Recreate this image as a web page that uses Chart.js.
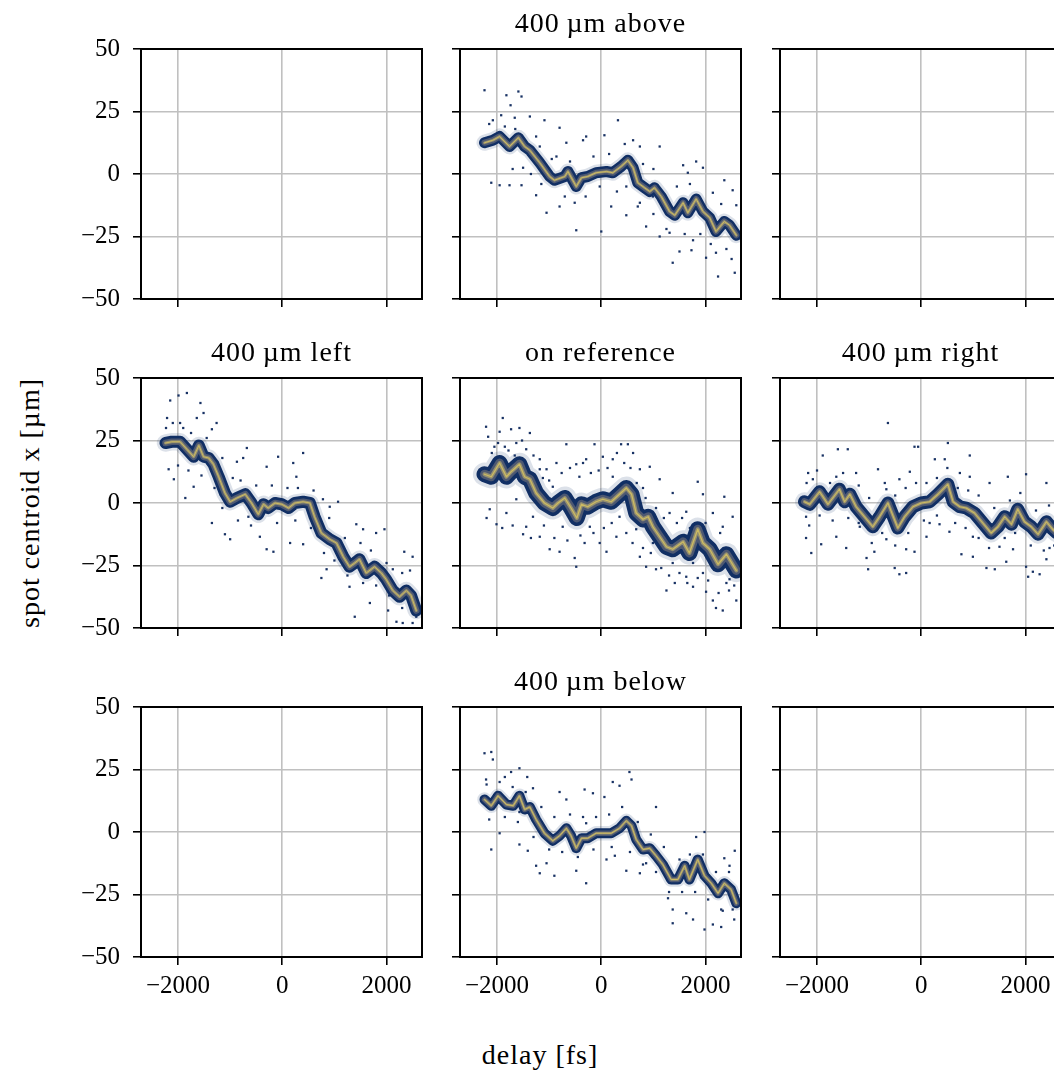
<!DOCTYPE html>
<html>
<head>
<meta charset="utf-8">
<script src="https://cdn.jsdelivr.net/npm/chart.js@4.4.1/dist/chart.umd.min.js"></script>
<style>
  html, body { margin: 0; padding: 0; background: #fff; overflow: hidden; }
  body { width: 1054px; height: 1073px; position: relative; font-family: 'Liberation Serif', serif; color: #000; }
  canvas { position: absolute; }
  .lbl { position: absolute; white-space: nowrap; font-size: 28px; letter-spacing: 1px; line-height: 1; transform: translate(-50%, -50%); }
  .rot { transform: translate(-50%, -50%) rotate(-90deg); }
</style>
</head>
<body>
<script>
// axis ticks and ranges
const delayTicks = [-2000, 0, 2000];
const centroidTicks = [-50, -25, 0, 25, 50];
const delayRange = [-2710, 2680];
const centroidRange = [-50, 50];

// densest ridge of each scan: [delay fs, centroid µm]
const ridgeAbove = [[-2240,12.5],[-2080,13.5],[-1950,15],[-1760,11],[-1590,14.5],[-1470,11],[-1370,9.5],[-1180,4.5],[-990,-1],[-900,-2.5],[-700,-1],[-640,1],[-480,-5],[-380,-1.5],[-260,-1],[-100,0.5],[100,1],[220,0.5],[380,3],[510,5.5],[610,2.5],[700,-3.5],[830,-5.5],[930,-7],[1020,-5.5],[1150,-9],[1310,-15],[1410,-16.5],[1570,-11.5],[1660,-15.5],[1820,-10],[1950,-15],[2080,-17.5],[2200,-23],[2360,-19],[2460,-20.5],[2590,-24.5]];
const ridgeLeft = [[-2240,24],[-2120,24.5],[-1960,24.5],[-1830,21.5],[-1700,18.5],[-1600,23],[-1510,18.5],[-1410,18],[-1320,15.5],[-1220,10.5],[-1100,4],[-1000,0.5],[-870,2],[-710,3.5],[-590,0],[-460,-4.5],[-360,-0.5],[-270,-2],[-140,0],[-10,-0.5],[120,-2],[240,0],[400,0.5],[530,0],[620,-5.5],[750,-12],[910,-14.5],[1040,-16],[1170,-21.5],[1290,-25.5],[1390,-24],[1480,-22.5],[1610,-28],[1770,-25.5],[1900,-28],[1990,-30.5],[2120,-35],[2250,-37.5],[2380,-35],[2470,-37],[2570,-43]];
const ridgeRef = [[-2240,11.5],[-2110,10.5],[-1950,16],[-1820,10.5],[-1730,12.5],[-1570,15.5],[-1470,10.5],[-1370,9.5],[-1250,4],[-1090,0],[-930,-2],[-830,0],[-700,2],[-580,-2],[-470,-6],[-380,-0.5],[-260,-1.5],[-100,0.5],[30,1.5],[190,0.5],[350,3.5],[480,6],[580,3.5],[670,-4],[800,-6.5],[900,-5.5],[990,-9.5],[1120,-13.5],[1250,-17.5],[1370,-18.5],[1570,-15.5],[1690,-20],[1850,-10.5],[1950,-16],[2080,-18.5],[2240,-24.5],[2400,-20.5],[2590,-27]];
const ridgeRight = [[-2240,0.5],[-2140,-0.5],[-1950,4.5],[-1790,-0.5],[-1570,5.5],[-1470,0.5],[-1370,3.5],[-1250,-1.5],[-1090,-5.5],[-930,-9.5],[-800,-5.5],[-640,0],[-450,-10],[-320,-5.5],[-160,-1.5],[0,0],[160,0.5],[320,3.5],[510,7.5],[610,0.5],[740,-1.5],[860,-2],[1020,-4],[1180,-8],[1340,-12],[1470,-9.5],[1600,-5.5],[1730,-8.5],[1850,-2.5],[1980,-7.5],[2110,-9.5],[2240,-12.5],[2400,-7.5],[2520,-10.5],[2600,-12]];
const ridgeBelow = [[-2240,13],[-2110,10.5],[-1980,14.5],[-1820,11],[-1690,10.5],[-1570,14.5],[-1470,9],[-1370,10],[-1250,5],[-1090,-0.5],[-930,-3.5],[-800,-1.5],[-670,1.5],[-580,-1.5],[-480,-6.5],[-380,-2.5],[-260,-2.5],[-100,-0.5],[30,-0.5],[190,-0.5],[350,1.5],[480,4.5],[580,2.5],[670,-3],[800,-7],[930,-6.5],[1050,-9.5],[1180,-13],[1340,-19],[1470,-19],[1600,-13.5],[1690,-19],[1850,-11],[1980,-17.5],[2110,-20.5],[2240,-24.5],[2360,-20.5],[2490,-23],[2590,-28.5]];

// sparse shots away from the ridge
const strayAbove = [[-2240,33.5],[-1820,31.5],[-1740,27.5],[-1590,33],[-1530,31],[-1920,23.5],[-2080,21.5],[-1660,22.5],[-1370,23],[-1090,21.5],[-800,18.5],[-290,15],[320,21.5],[60,15.5],[740,11],[1120,11],[1570,3.5],[1820,5],[1950,2.5],[1660,0.5],[2360,-2.5],[2520,-6.5],[2590,-12.5],[2140,-7.5],[-2110,-3.5],[-1950,-4.5],[-1760,-4.5],[-1530,-4.5],[-1250,-8.5],[-1050,-15.5],[-800,-13],[-480,-22.5],[-510,-11.5],[0,-23],[190,-13],[480,-16.5],[860,-21],[1120,-25],[1370,-35.5],[1500,-31],[1730,-30.5],[2010,-33.5],[2240,-41],[2560,-39.5],[2200,-31.5],[1760,-26.5],[1310,-23.5],[740,-11.5],[990,-9],[-860,7],[-1180,11],[-540,0.5],[-1500,2.5],[480,-5],[-30,-5],[-350,13.5],[-670,12.5],[610,13.5],
  [-2150,20],[-1850,19],[-1650,18],[-1250,15],[-950,6],[-600,5],[-150,7],[150,8],[450,12],[800,4],[1000,2],[1450,-5],[1700,-4],[2300,-12],[-1700,2],[-1350,0],[-1150,-4],[-700,-9],[-300,-9],[300,-7],[700,-13],[1000,-16],[1250,-22],[1600,-24],[1900,-24],[2100,-28],[2400,-30],[2500,-34]];
const strayLeft = [[-1990,43],[-1830,44],[-2150,41],[-2210,34],[-1960,32],[-1570,40],[-1510,36],[-1350,29.5],[-1260,32],[-1640,34],[-2180,13.5],[-2080,9.5],[-1860,2],[-1700,6.5],[-1350,-8],[-1000,-14.5],[-1100,-12.5],[-680,22],[-870,16.5],[-750,18],[-300,14.5],[-80,18.5],[210,16],[400,20],[270,10.5],[-300,-18.5],[-170,-19.5],[-430,-13.5],[150,-16],[400,-16.5],[780,1.5],[910,-1.5],[1070,0.5],[1420,-8.5],[1550,-10.5],[1800,-12],[1960,-10.5],[750,-30],[850,-26.5],[1290,-33.5],[1390,-45.5],[1680,-40],[2030,-43],[2190,-47.5],[2310,-48],[2500,-21.5],[2340,-19.5],[2120,-26.5],[2570,-45.5],[1100,-22],[-650,-5.5],[-1260,13.5],
  [-2230,30],[-2100,32],[-1900,30],[-1750,28],[-1450,26],[-1150,18],[-950,10],[-800,9],[-500,7],[-200,7],[100,6],[300,6],[600,5],[900,-6],[1200,-14],[1500,-16],[1700,-19],[2000,-24],[2300,-28],[2450,-27],[-2000,15],[-1800,13],[-1550,11],[-1300,6],[-1150,-2],[-850,-7],[-600,-9],[-100,-8],[250,-7],[550,-10],[800,-20],[1000,-23],[1250,-29],[1550,-32],[1800,-33],[2050,-37],[2300,-42],[2500,-48]];
const strayRef = [[-2210,30.5],[-1890,34],[-1950,28.5],[-1730,29.5],[-1570,30],[-1370,28],[-2050,22.5],[-1630,24],[-1440,21.5],[-1180,17.5],[-1050,13.5],[-860,16],[-670,23.5],[-480,15.5],[-290,17.5],[-130,23.5],[30,18.5],[220,17.5],[380,23.5],[510,23.5],[610,20],[740,13.5],[930,14.5],[1120,9.5],[1370,4],[1850,8.5],[1950,3.5],[2360,2.5],[2520,-5.5],[2330,-9.5],[2140,-4],[1630,-3.5],[-2140,-2.5],[-2010,-8.5],[-1820,-4],[-1500,-12.5],[-1180,-13.5],[-990,-18.5],[-800,-19.5],[-510,-22],[-480,-25.5],[-320,-16],[-30,-16],[100,-19.5],[290,-13.5],[480,-12],[740,-21.5],[860,-25.5],[1050,-26.5],[1250,-35],[1410,-32],[1630,-29.5],[1760,-33.5],[2010,-35.5],[2200,-42],[2330,-43],[2590,-39],[2460,-30.5],[2140,-39],[1950,-28],[-1310,-5.5],[-1630,1.5],[-930,6.5],[-1440,-9.5],[-740,-9.5],[-220,-9.5],[350,-5.5],[670,-10.5],[990,-16],[1370,-24],[1760,-24],[2400,-32],[-420,10.5],[220,10.5],[800,6],[1310,-4],[-1180,13.5],[-1500,16],[-1850,22.5],[-2170,26.5],
  [-2100,20],[-1980,24],[-1780,21],[-1660,19],[-1520,25],[-1300,19],[-1120,10],[-1000,9],[-760,12],[-600,14],[-350,16],[-200,12],[-50,13],[120,14],[300,20],[440,16],[560,14],[680,8],[850,2],[1050,-2],[1200,-6],[1450,-8],[1550,-6],[1700,-10],[2000,-8],[2280,-12],[-2200,-6],[-1900,-10],[-1700,-9],[-1350,-14],[-1100,-9],[-900,-14],[-650,-15],[-400,-13],[-150,-12],[50,-10],[200,-8],[600,-16],[800,-18],[950,-20],[1150,-26],[1300,-29],[1500,-28],[1650,-32],[1850,-30],[2050,-31],[2250,-36],[2450,-35],[2550,-33]];
const strayRight = [[-640,32],[510,24],[-60,22.5],[-130,22.5],[-1600,21.5],[-1410,21.5],[-1890,19],[260,17.5],[930,19],[450,17.5],[-830,13.5],[-220,12.5],[740,12],[-2170,12],[1660,10.5],[2400,8],[2010,11.5],[1310,8],[930,10.5],[-1250,12],[-1630,10.5],[-2080,9.5],[-2210,-5.5],[-2210,-14],[-2110,-20],[-1920,-16.5],[-1440,-18],[-1050,-22],[-1020,-26.5],[-900,-19.5],[-510,-26],[-420,-28.5],[-290,-28],[-130,-19.5],[100,-13.5],[350,-8.5],[540,-11.5],[770,-20.5],[990,-21.5],[1250,-26],[1410,-26.5],[1630,-23.5],[2010,-25.5],[2050,-29.5],[2140,-27.5],[2270,-28.5],[2400,-22.5],[2460,-18],[-1630,-13.5],[-1180,-9.5],[-670,-14.5],[-290,-18.5],[160,-8],[990,-13.5],[1500,-17.5],[1760,-18.5],[-670,5.5],[-420,9.5],
  [-2200,8],[-2000,13],[-1750,8],[-1500,12],[-1200,7],[-1000,2],[-700,8],[-500,3],[-300,6],[-100,8],[100,8],[300,10],[500,14],[700,6],[900,5],[1100,3],[1400,-2],[1700,1],[1900,4],[2200,-3],[2450,-1],[-2150,-9],[-1950,-5],[-1700,-7],[-1400,-6],[-1200,-8],[-950,-16],[-750,-12],[-500,-17],[-250,-12],[50,-7],[300,-5],[650,-8],[850,-10],[1100,-14],[1300,-18],[1600,-14],[1800,-12],[2100,-17],[2350,-19],[2550,-17]];
const strayBelow = [[-2240,31.5],[-2110,32],[-2080,29],[-1570,25.5],[-1730,24],[-1850,22],[-1420,22],[-2210,21],[-1310,17.5],[-800,16],[-320,17],[-160,15.5],[60,14],[220,20],[350,18.5],[540,24],[580,21],[1050,10],[1820,-2],[1980,0],[-670,13],[-2110,-7],[-1950,-0.5],[-1570,-5],[-1410,-7.5],[-1250,-13.5],[-1180,-16.5],[-1050,-12.5],[-900,-17.5],[-480,-15.5],[-290,-20.5],[100,-11],[260,-9.5],[480,-15.5],[740,-16.5],[860,-12.5],[1280,-26.5],[1370,-36.5],[1370,-31],[1630,-32.5],[1760,-35],[1980,-39],[2140,-37],[2300,-38],[2330,-31.5],[2520,-31],[2460,-13.5],[2560,-7.5],[2360,-10.5],[-1570,8],[-290,3.5],[860,-5.5],
  [-2200,19],[-1950,20],[-1700,18],[-1450,16],[-1150,10],[-900,6],[-600,7],[-350,6],[-100,6],[150,7],[400,10],[700,4],[950,-1],[1200,-6],[1500,-11],[1700,-9],[1950,-9],[2200,-16],[2450,-16],[-2150,5],[-1850,6],[-1600,4],[-1300,-2],[-1000,-7],[-750,-8],[-450,-10],[-150,-7],[200,-6],[550,-8],[800,-13],[1050,-16],[1300,-24],[1550,-24],[1800,-24],[2050,-27],[2300,-31],[2550,-35]];

const panels = [
  { row: 0, col: 0 },
  { row: 0, col: 1, title: '400\u2009µm above', ridge: ridgeAbove, stray: strayAbove, band: 11 },
  { row: 0, col: 2 },
  { row: 1, col: 0, title: '400\u2009µm left', ridge: ridgeLeft, stray: strayLeft, band: 12 },
  { row: 1, col: 1, title: 'on reference', ridge: ridgeRef, stray: strayRef, band: 16 },
  { row: 1, col: 2, title: '400\u2009µm right', ridge: ridgeRight, stray: strayRight, band: 13 },
  { row: 2, col: 0 },
  { row: 2, col: 1, title: '400\u2009µm below', ridge: ridgeBelow, stray: strayBelow, band: 10 },
  { row: 2, col: 2 },
];

// cividis-like shading from the edge of the ridge towards its centre;
// higher order is painted first
const bandLayers = [
  { k: 1.45, color: 'rgba(20,52,105,0.15)', order: 5 },
  { k: 1.0, color: '#112f64', order: 4 },
  { k: 0.55, color: '#4d5872', order: 3 },
  { k: 0.25, color: '#948f70', order: 2 },
  { k: 0.08, color: '#cdbb62', order: 1 },
];

const colLeft = [141, 460, 780];
const rowTop = [49, 378, 707];
const PW = 281, PH = 250;
const MT = 28, MR = 16;

Chart.defaults.font.family = "'Liberation Serif', serif";
Chart.defaults.font.size = 25;
Chart.defaults.color = '#000';

const frame = {
  id: 'frame',
  afterDraw(chart) {
    const a = chart.chartArea, ctx = chart.ctx;
    ctx.save();
    ctx.strokeStyle = '#000';
    ctx.lineWidth = 2;
    ctx.strokeRect(a.left, a.top, a.right - a.left, a.bottom - a.top);
    ctx.restore();
  }
};

const minus = v => String(v).replace('-', '\u2212');
const pts = arr => arr.map(p => ({ x: p[0], y: p[1] }));

function addLabel(text, x, y, cls) {
  const d = document.createElement('div');
  d.className = 'lbl' + (cls ? ' ' + cls : '');
  d.textContent = text;
  d.style.left = x + 'px';
  d.style.top = y + 'px';
  document.body.appendChild(d);
}

panels.forEach(p => {
  const ML = p.col === 0 ? 80 : 12;
  const MB = p.row === 2 ? 46 : 28;
  const cv = document.createElement('canvas');
  cv.width = ML + PW + MR;
  cv.height = MT + PH + MB;
  cv.style.left = (colLeft[p.col] - ML) + 'px';
  cv.style.top = (rowTop[p.row] - MT) + 'px';
  document.body.appendChild(cv);

  const datasets = [];
  if (p.ridge) {
    datasets.push({
      data: pts(p.stray), pointStyle: 'rect', pointRadius: 1.6, order: 6,
      backgroundColor: '#183264', borderWidth: 0, clip: 0
    });
    bandLayers.forEach(l => datasets.push({
      data: pts(p.ridge), showLine: true, borderColor: l.color, order: l.order,
      borderWidth: Math.max(1, p.band * l.k), pointRadius: 0, tension: 0,
      borderJoinStyle: 'round', borderCapStyle: 'round', clip: 0
    }));
  }

  const grid = { color: '#c0c0c0', lineWidth: 1.6, tickColor: '#000', tickWidth: 1.6, tickLength: 8 };
  new Chart(cv, {
    type: 'scatter',
    data: { datasets },
    options: {
      responsive: false, animation: false, devicePixelRatio: 1,
      layout: { padding: { top: MT, right: MR, left: 0, bottom: 0 } },
      plugins: { legend: { display: false }, tooltip: { enabled: false } },
      scales: {
        x: {
          min: delayRange[0], max: delayRange[1],
          grid, border: { color: '#000', width: 2 },
          afterBuildTicks: s => { s.ticks = delayTicks.map(v => ({ value: v })); },
          afterFit: s => { s.height = MB; },
          ticks: { display: p.row === 2, padding: 6, maxRotation: 0, callback: minus }
        },
        y: {
          min: centroidRange[0], max: centroidRange[1],
          grid, border: { color: '#000', width: 2 },
          afterBuildTicks: s => { s.ticks = centroidTicks.map(v => ({ value: v })); },
          afterFit: s => { s.width = ML; },
          ticks: { display: p.col === 0, padding: 13, callback: minus }
        }
      }
    },
    plugins: [frame]
  });

  if (p.title) addLabel(p.title, colLeft[p.col] + PW / 2, rowTop[p.row] - 26);
});

addLabel('spot centroid x [µm]', 30, 503, 'rot');
addLabel('delay [fs]', 540, 1055);
</script>
</body>
</html>
